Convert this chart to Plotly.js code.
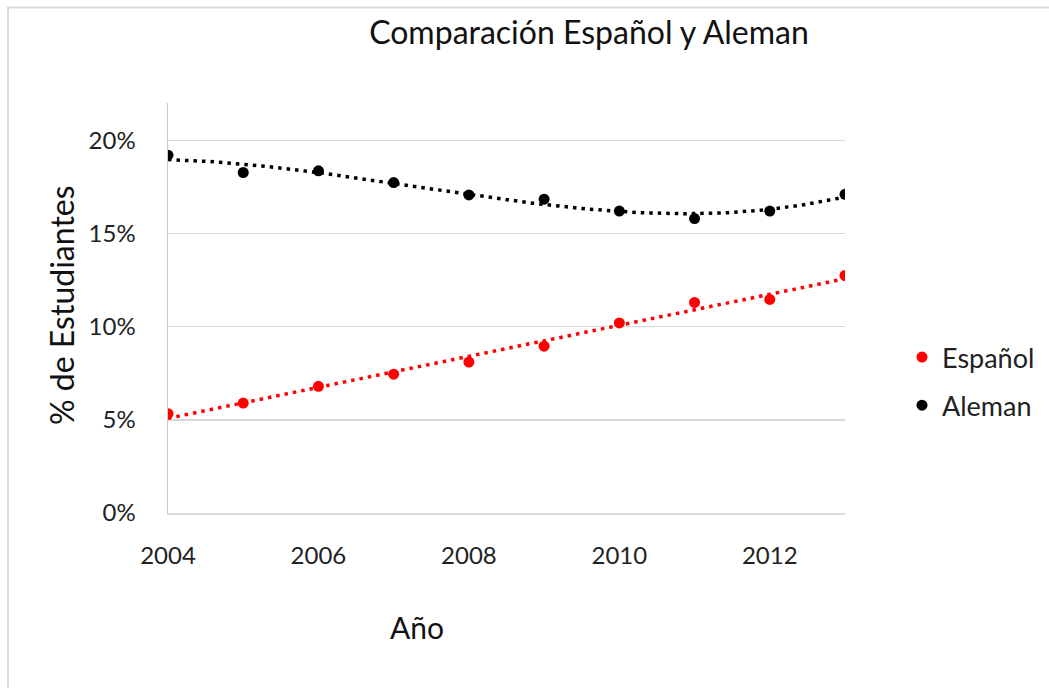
<!DOCTYPE html>
<html>
<head>
<meta charset="utf-8">
<script src="https://cdn.plot.ly/plotly-3.0.1.min.js"></script>
<style>html,body{margin:0;padding:0;background:#fff;}#chart{width:1049px;height:688px;}</style>
</head>
<body>
<div id="chart"></div>
<script>
// ---- data ----
const years = [2004, 2005, 2006, 2007, 2008, 2009, 2010, 2011, 2012, 2013];
const espanol = [0.0533, 0.059, 0.068, 0.0745, 0.081, 0.0895, 0.102, 0.113, 0.1146, 0.1275];
const aleman = [0.192, 0.1827, 0.1836, 0.1773, 0.1707, 0.1684, 0.162, 0.158, 0.162, 0.171];
const xTicks = [2004, 2006, 2008, 2010, 2012];
const yTicks = [0, 0.05, 0.10, 0.15, 0.20];

// ---- least-squares polynomial trendline (like Excel) ----
function polyfit(xs, ys, deg) {
  const x0 = xs[0];
  const n = deg + 1;
  const A = [], b = [];
  for (let i = 0; i < n; i++) {
    A.push(new Array(n).fill(0));
    b.push(0);
  }
  xs.forEach((xv, k) => {
    const t = xv - x0;
    for (let i = 0; i < n; i++) {
      b[i] += ys[k] * Math.pow(t, i);
      for (let j = 0; j < n; j++) A[i][j] += Math.pow(t, i + j);
    }
  });
  for (let c = 0; c < n; c++) {
    let p = c;
    for (let r = c + 1; r < n; r++) if (Math.abs(A[r][c]) > Math.abs(A[p][c])) p = r;
    [A[c], A[p]] = [A[p], A[c]];
    [b[c], b[p]] = [b[p], b[c]];
    for (let r = c + 1; r < n; r++) {
      const f = A[r][c] / A[c][c];
      for (let j = c; j < n; j++) A[r][j] -= f * A[c][j];
      b[r] -= f * b[c];
    }
  }
  const coef = new Array(n).fill(0);
  for (let i = n - 1; i >= 0; i--) {
    let s = b[i];
    for (let j = i + 1; j < n; j++) s -= A[i][j] * coef[j];
    coef[i] = s / A[i][i];
  }
  return xv => coef.reduce((acc, c, i) => acc + c * Math.pow(xv - x0, i), 0);
}
function trend(xs, ys, deg) {
  const f = polyfit(xs, ys, deg);
  const tx = [], ty = [];
  const steps = 180;
  for (let i = 0; i <= steps; i++) {
    const xv = xs[0] + (xs[xs.length - 1] - xs[0]) * i / steps;
    tx.push(xv); ty.push(f(xv));
  }
  return {x: tx, y: ty};
}
const tEsp = trend(years, espanol, 1);
const tAle = trend(years, aleman, 3);

const RED = '#ff0000', BLACK = '#000000';
const FONT = 'Lato, "Open Sans", "Liberation Sans", sans-serif';

const traces = [
  {x: years, y: espanol, name: 'Español', type: 'scatter', mode: 'markers',
   marker: {color: RED, size: 11}, legendgroup: 'a'},
  {x: years, y: aleman, name: 'Aleman', type: 'scatter', mode: 'markers',
   marker: {color: BLACK, size: 11}, legendgroup: 'b'},
  {x: tEsp.x, y: tEsp.y, type: 'scatter', mode: 'lines', showlegend: false, hoverinfo: 'skip',
   line: {color: RED, width: 3.5, dash: '3.5px,5px'}},
  {x: tAle.x, y: tAle.y, type: 'scatter', mode: 'lines', showlegend: false, hoverinfo: 'skip',
   line: {color: BLACK, width: 3.5, dash: '3.5px,5px'}}
];

const W = 1049, H = 688;
const L = 168, R = 204, T = 103, B = 175;
const pw = W - L - R, ph = H - T - B;
const px = v => (v - L) / pw;
const py = v => (H - B - v) / ph;

const layout = {
  width: W, height: H,
  margin: {l: L, r: R, t: T, b: B, autoexpand: false},
  paper_bgcolor: '#ffffff', plot_bgcolor: '#ffffff',
  font: {family: FONT, color: '#222222'},
  title: {text: 'Comparación Español y Aleman', font: {family: FONT, size: 32, color: '#111111'},
          x: 589 / W, xanchor: 'center', xref: 'container', y: 1 - 33 / H, yanchor: 'middle', yref: 'container'},
  xaxis: {range: [2004, 2013], tickvals: xTicks, ticktext: xTicks.map(String), automargin: false,
          showgrid: false, zeroline: false, showline: true, linecolor: '#d9d9d9', linewidth: 1.5,
          ticks: '', ticklabelstandoff: 21, tickfont: {family: FONT, size: 24, color: '#222222'}},
  yaxis: {range: [0, 0.22], tickvals: yTicks, tickformat: '.0%', automargin: false,
          showgrid: true, gridcolor: '#d9d9d9', gridwidth: 1.5, zeroline: false,
          showline: true, linecolor: '#c8c8c8', linewidth: 1.5,
          ticks: '', ticklabelstandoff: 26, tickfont: {family: FONT, size: 24, color: '#222222'}},
  showlegend: true,
  legend: {x: px(902), y: py(333), xanchor: 'left', yanchor: 'top', bgcolor: 'rgba(0,0,0,0)',
           font: {family: FONT, size: 27, color: '#222222'}, tracegroupgap: 10, itemwidth: 30},
  annotations: [
    {text: '% de Estudiantes', xref: 'paper', yref: 'paper', x: px(61), y: py(305),
     xanchor: 'center', yanchor: 'middle', textangle: -90, showarrow: false,
     font: {family: FONT, size: 32, color: '#111111'}},
    {text: 'Año', xref: 'paper', yref: 'paper', x: px(417), y: py(627),
     xanchor: 'center', yanchor: 'middle', showarrow: false,
     font: {family: FONT, size: 30, color: '#111111'}}
  ],
  shapes: [
    {type: 'rect', xref: 'paper', yref: 'paper', x0: px(8), x1: px(W + 20), y0: py(H + 20), y1: py(7.5),
     line: {color: '#d9d9d9', width: 2}, fillcolor: 'rgba(0,0,0,0)', layer: 'below'}
  ]
};

Plotly.newPlot('chart', traces, layout, {displayModeBar: false, staticPlot: true});
</script>
</body>
</html>
